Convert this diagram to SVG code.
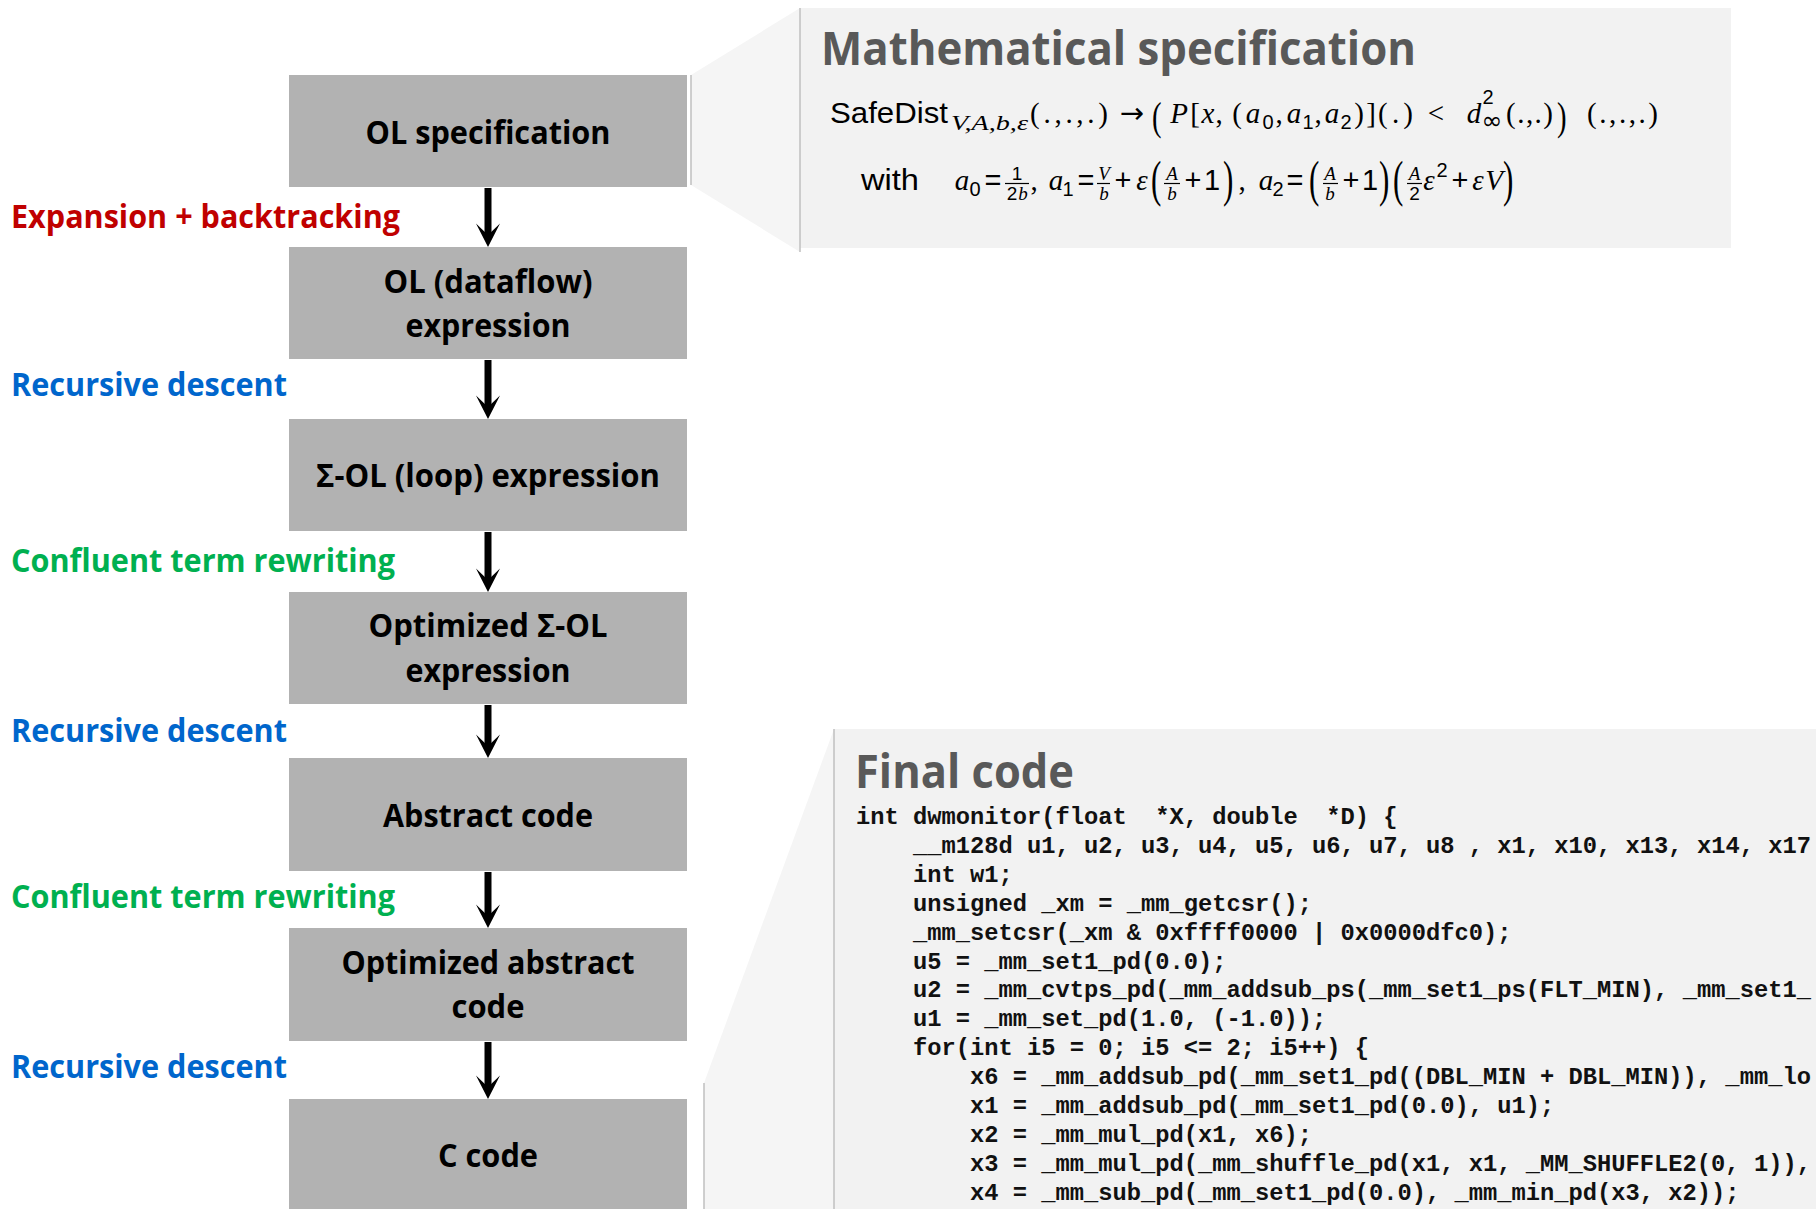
<svg xmlns="http://www.w3.org/2000/svg" width="1816" height="1209" viewBox="0 0 1816 1209">
<defs>
<style>
.box{fill:#B2B2B2}
.bt{font-family:"Open Sans","Liberation Sans",sans-serif;font-weight:bold;font-size:33px;fill:#000;text-anchor:middle}
.lb{font-family:"Open Sans","Liberation Sans",sans-serif;font-weight:bold;font-size:33px}
.red{fill:#C00000}.blue{fill:#0066CC}.green{fill:#00B050}
.title{font-family:"Open Sans","Liberation Sans",sans-serif;font-weight:bold;font-size:47px;fill:#595959}
.code{font-family:"Liberation Mono","Courier New",monospace;font-weight:bold;font-size:23.75px;fill:#111;white-space:pre}
.msf{font-family:"Liberation Sans",sans-serif;font-size:29px;fill:#000}
.mit{font-family:"Liberation Serif",serif;font-style:italic;font-size:29px;fill:#000}
.mrm{font-family:"Liberation Serif",serif;font-size:29px;fill:#000}
.sym{font-family:"DejaVu Sans",sans-serif;font-size:29px;fill:#000}
.inf{font-family:"DejaVu Sans",sans-serif;font-size:25px;fill:#000}
.bp1{font-family:"Liberation Serif",serif;font-size:41px;fill:#000}
.bp2{font-family:"Liberation Serif",serif;font-size:50px;fill:#000}
.c{text-anchor:middle}
.s{font-size:20px}
.f{font-size:19px}
.conn line{stroke:#000;stroke-width:7}
.fr{stroke:#000;stroke-width:1.2}
</style>
<marker id="ah" viewBox="-12 -13 25 26" markerWidth="25" markerHeight="26" refX="0" refY="0" orient="auto" markerUnits="userSpaceOnUse">
<path d="M12,0 L-11.5,-12 L0,0 L-11.5,12 Z" fill="#000"/>
</marker>
</defs>

<!-- callout panels -->
<g id="math-panel">
<polygon points="691,75 800,8 800,252 691,185" fill="#F5F5F5"/>
<line x1="691" y1="75" x2="691" y2="185" stroke="#BFBFBF" stroke-width="1.5"/>
<rect x="800" y="8" width="931" height="240" fill="#F2F2F2"/>
<line x1="800" y1="8" x2="800" y2="252" stroke="#BFBFBF" stroke-width="1.5"/>
<text class="title" x="821" y="65" textLength="595" lengthAdjust="spacingAndGlyphs">Mathematical specification</text>
<!-- line 1 -->
<text class="msf" x="830" y="123" textLength="118" lengthAdjust="spacingAndGlyphs">SafeDist</text>
<text class="mit s" x="951" y="130" textLength="77" lengthAdjust="spacingAndGlyphs">V,A,b,ε</text>
<text class="mrm" x="1030" y="123" textLength="78" lengthAdjust="spacing">(.,.,.)</text>
<text class="sym c" x="1132" y="123">→</text>
<text class="bp1" transform="translate(1152,130) scale(0.7,1)">(</text>
<text class="mit c" x="1179" y="123">P</text>
<text class="mrm c" x="1195" y="123">[</text>
<text class="mit c" x="1208" y="123">x</text>
<text class="mrm c" x="1219" y="123">,</text>
<text class="mrm c" x="1237" y="123">(</text>
<text class="mit c" x="1253" y="123">a</text>
<text class="msf s c" x="1268" y="129">0</text>
<text class="mrm c" x="1279" y="123">,</text>
<text class="mit c" x="1294" y="123">a</text>
<text class="msf s c" x="1308" y="129">1</text>
<text class="mrm c" x="1318" y="123">,</text>
<text class="mit c" x="1332" y="123">a</text>
<text class="msf s c" x="1346" y="129">2</text>
<text class="mrm c" x="1359" y="123">)</text>
<text class="mrm c" x="1371" y="123">]</text>
<text class="mrm" x="1378" y="123" textLength="35" lengthAdjust="spacing">(.)</text>
<text class="mrm c" x="1436" y="123">&lt;</text>
<text class="mit c" x="1474" y="123">d</text>
<text class="msf s c" x="1488" y="104">2</text>
<text class="inf c" x="1492" y="129">∞</text>
<text class="mrm" x="1506" y="123" textLength="47" lengthAdjust="spacing">(.,.)</text>
<text class="bp1" transform="translate(1557,130) scale(0.7,1)">)</text>
<text class="mrm" x="1587" y="123" textLength="71" lengthAdjust="spacing">(.,.,.)</text>
<!-- line 2 -->
<text class="msf" x="861" y="190" textLength="58" lengthAdjust="spacingAndGlyphs">with</text>
<text class="mit c" x="962" y="190">a</text>
<text class="msf s c" x="975" y="196">0</text>
<text class="msf c" x="993" y="190">=</text>
<text class="msf f c" x="1017" y="180">1</text>
<line class="fr" x1="1005" y1="183.5" x2="1029" y2="183.5"/>
<text class="msf f c" x="1012" y="200">2</text><text class="mit f c" x="1023" y="200">b</text>
<text class="mrm c" x="1034" y="190">,</text>
<text class="mit c" x="1056" y="190">a</text>
<text class="msf s c" x="1068" y="196">1</text>
<text class="msf c" x="1086" y="190">=</text>
<text class="mit f c" x="1104" y="180">V</text>
<line class="fr" x1="1097" y1="183.5" x2="1110" y2="183.5"/>
<text class="mit f c" x="1104" y="200">b</text>
<text class="msf c" x="1123" y="190">+</text>
<text class="mit c" x="1142" y="190">ε</text>
<text class="bp2" transform="translate(1151,196) scale(0.62,1)">(</text>
<text class="mit f c" x="1172" y="180">A</text>
<line class="fr" x1="1164" y1="183.5" x2="1180" y2="183.5"/>
<text class="mit f c" x="1172" y="200">b</text>
<text class="msf c" x="1193" y="190">+</text>
<text class="msf c" x="1212" y="190">1</text>
<text class="bp2" transform="translate(1223,196) scale(0.62,1)">)</text>
<text class="mrm c" x="1242" y="190">,</text>
<text class="mit c" x="1266" y="190">a</text>
<text class="msf s c" x="1278" y="196">2</text>
<text class="msf c" x="1295" y="190">=</text>
<text class="bp2" transform="translate(1309,196) scale(0.62,1)">(</text>
<text class="mit f c" x="1330" y="180">A</text>
<line class="fr" x1="1323" y1="183.5" x2="1338" y2="183.5"/>
<text class="mit f c" x="1330" y="200">b</text>
<text class="msf c" x="1351" y="190">+</text>
<text class="msf c" x="1370" y="190">1</text>
<text class="bp2" transform="translate(1379,196) scale(0.62,1)">)</text>
<text class="bp2" transform="translate(1393,196) scale(0.62,1)">(</text>
<text class="mit f c" x="1414.5" y="180">A</text>
<line class="fr" x1="1407" y1="183.5" x2="1422" y2="183.5"/>
<text class="msf f c" x="1414.5" y="200">2</text>
<text class="mit c" x="1429" y="190">ε</text>
<text class="msf s c" x="1442" y="177">2</text>
<text class="msf c" x="1460" y="190">+</text>
<text class="mit c" x="1478" y="190">ε</text>
<text class="mit c" x="1494" y="190">V</text>
<text class="bp2" transform="translate(1503,196) scale(0.62,1)">)</text>
</g>

<g id="code-panel">
<polygon points="704,1083 834,729 834,1209 704,1209" fill="#F5F5F5"/>
<line x1="704" y1="1083" x2="704" y2="1209" stroke="#BFBFBF" stroke-width="1.5"/>
<rect x="834" y="729" width="982" height="480" fill="#F2F2F2"/>
<line x1="834" y1="729" x2="834" y2="1209" stroke="#BFBFBF" stroke-width="1.5"/>
<text class="title" x="855" y="788" textLength="219" lengthAdjust="spacingAndGlyphs">Final code</text>
<g class="code">
<text xml:space="preserve" x="856" y="824">int dwmonitor(float  *X, double  *D) {</text>
<text xml:space="preserve" x="913" y="852.9">__m128d u1, u2, u3, u4, u5, u6, u7, u8 , x1, x10, x13, x14, x17</text>
<text xml:space="preserve" x="913" y="881.8">int w1;</text>
<text xml:space="preserve" x="913" y="910.7">unsigned _xm = _mm_getcsr();</text>
<text xml:space="preserve" x="913" y="939.6">_mm_setcsr(_xm &amp; 0xffff0000 | 0x0000dfc0);</text>
<text xml:space="preserve" x="913" y="968.5">u5 = _mm_set1_pd(0.0);</text>
<text xml:space="preserve" x="913" y="997.4">u2 = _mm_cvtps_pd(_mm_addsub_ps(_mm_set1_ps(FLT_MIN), _mm_set1_</text>
<text xml:space="preserve" x="913" y="1026.3">u1 = _mm_set_pd(1.0, (-1.0));</text>
<text xml:space="preserve" x="913" y="1055.2">for(int i5 = 0; i5 &lt;= 2; i5++) {</text>
<text xml:space="preserve" x="970" y="1084.1">x6 = _mm_addsub_pd(_mm_set1_pd((DBL_MIN + DBL_MIN)), _mm_lo</text>
<text xml:space="preserve" x="970" y="1113">x1 = _mm_addsub_pd(_mm_set1_pd(0.0), u1);</text>
<text xml:space="preserve" x="970" y="1141.9">x2 = _mm_mul_pd(x1, x6);</text>
<text xml:space="preserve" x="970" y="1170.8">x3 = _mm_mul_pd(_mm_shuffle_pd(x1, x1, _MM_SHUFFLE2(0, 1)),</text>
<text xml:space="preserve" x="970" y="1199.7">x4 = _mm_sub_pd(_mm_set1_pd(0.0), _mm_min_pd(x3, x2));</text>
</g>
</g>

<!-- nodes -->
<g id="n1"><rect class="box" x="289" y="75" width="398" height="112"/><text class="bt" x="488" y="144" textLength="245" lengthAdjust="spacingAndGlyphs">OL specification</text></g>
<g id="n2"><rect class="box" x="289" y="247" width="398" height="112"/><text class="bt" x="488" y="293" textLength="209" lengthAdjust="spacingAndGlyphs">OL (dataflow)</text><text class="bt" x="488" y="337" textLength="165" lengthAdjust="spacingAndGlyphs">expression</text></g>
<g id="n3"><rect class="box" x="289" y="419" width="398" height="112"/><text class="bt" x="488" y="487" textLength="344" lengthAdjust="spacingAndGlyphs">Σ-OL (loop) expression</text></g>
<g id="n4"><rect class="box" x="289" y="592" width="398" height="112"/><text class="bt" x="488" y="637" textLength="239" lengthAdjust="spacingAndGlyphs">Optimized Σ-OL</text><text class="bt" x="488" y="682" textLength="165" lengthAdjust="spacingAndGlyphs">expression</text></g>
<g id="n5"><rect class="box" x="289" y="758" width="398" height="113"/><text class="bt" x="488" y="827" textLength="210" lengthAdjust="spacingAndGlyphs">Abstract code</text></g>
<g id="n6"><rect class="box" x="289" y="928" width="398" height="113"/><text class="bt" x="488" y="974" textLength="293" lengthAdjust="spacingAndGlyphs">Optimized abstract</text><text class="bt" x="488" y="1018" textLength="73" lengthAdjust="spacingAndGlyphs">code</text></g>
<g id="n7"><rect class="box" x="289" y="1099" width="398" height="112"/><text class="bt" x="488" y="1167" textLength="100" lengthAdjust="spacingAndGlyphs">C code</text></g>

<!-- connectors -->
<g id="connectors" class="conn">
<line x1="488" y1="188" x2="488" y2="235" marker-end="url(#ah)"/>
<line x1="488" y1="360" x2="488" y2="407" marker-end="url(#ah)"/>
<line x1="488" y1="532" x2="488" y2="580" marker-end="url(#ah)"/>
<line x1="488" y1="705" x2="488" y2="746" marker-end="url(#ah)"/>
<line x1="488" y1="872" x2="488" y2="916" marker-end="url(#ah)"/>
<line x1="488" y1="1042" x2="488" y2="1087" marker-end="url(#ah)"/>
</g>

<!-- connector labels -->
<g id="labels">
<text class="lb red" x="11" y="228" textLength="389" lengthAdjust="spacingAndGlyphs">Expansion + backtracking</text>
<text class="lb blue" x="11" y="396" textLength="276" lengthAdjust="spacingAndGlyphs">Recursive descent</text>
<text class="lb green" x="11" y="572" textLength="384" lengthAdjust="spacingAndGlyphs">Confluent term rewriting</text>
<text class="lb blue" x="11" y="742" textLength="276" lengthAdjust="spacingAndGlyphs">Recursive descent</text>
<text class="lb green" x="11" y="908" textLength="384" lengthAdjust="spacingAndGlyphs">Confluent term rewriting</text>
<text class="lb blue" x="11" y="1078" textLength="276" lengthAdjust="spacingAndGlyphs">Recursive descent</text>
</g>
</svg>
